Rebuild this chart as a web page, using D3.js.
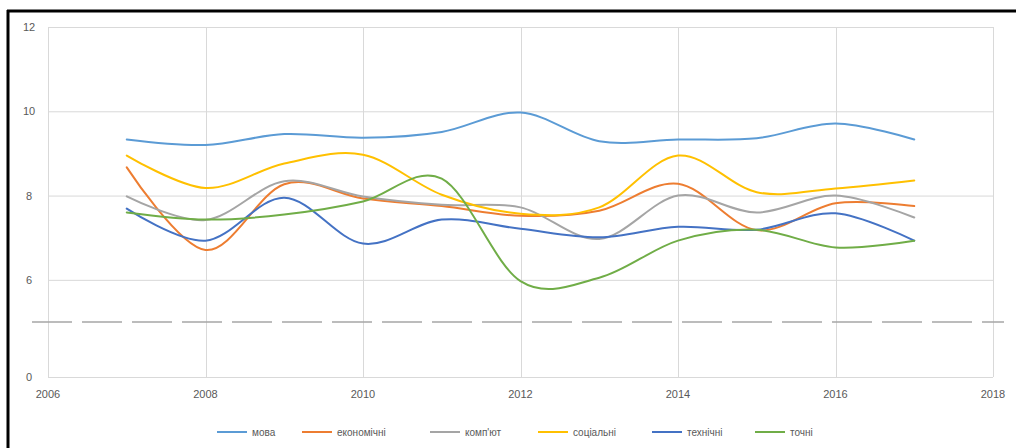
<!DOCTYPE html>
<html><head><meta charset="utf-8">
<script src="https://cdn.jsdelivr.net/npm/d3@7"></script>
<style>body{margin:0;background:#fff;}svg{display:block;font-family:"Liberation Sans",Arial,sans-serif;}</style>
</head><body>
<svg id="c" width="1016" height="448"></svg>
<script>
const years = [2007,2008,2009,2010,2011,2012,2013,2014,2015,2016,2017];
const seriesNames = ["мова","економічні","комп'ют","соціальні","технічні","точні"];
const seriesColors = ["#5B9BD5","#ED7D31","#A5A5A5","#FFC000","#4472C4","#70AD47"];
const mova        = [9.33,9.20,9.46,9.37,9.51,9.97,9.29,9.33,9.36,9.71,9.33];
const ekonomichni = [8.67,6.71,8.27,7.93,7.75,7.52,7.64,8.28,7.18,7.82,7.75];
const kompiut     = [7.98,7.42,8.34,7.98,7.78,7.72,6.97,8.00,7.60,8.00,7.48];
const sotsialni   = [8.95,8.18,8.76,8.97,8.02,7.57,7.72,8.95,8.08,8.17,8.36];
const tekhnichni  = [7.69,6.93,7.95,6.86,7.43,7.21,7.01,7.26,7.19,7.58,6.93];
const tochni      = [7.60,7.43,7.55,7.86,8.40,5.97,6.05,6.93,7.19,6.77,6.93];
const xTicks = [2006,2008,2010,2012,2014,2016,2018];
const yTicks = [0,6,8,10,12];
const axisBreak = 5;

const allSeries = [mova,ekonomichni,kompiut,sotsialni,tekhnichni,tochni];
const svg = d3.select("#c");

// frame (left/top black border)
svg.append("line").attr("x1",8).attr("x2",8).attr("y1",10).attr("y2",448).attr("stroke","#000").attr("stroke-width",3);
svg.append("line").attr("x1",7).attr("x2",1016).attr("y1",11).attr("y2",11).attr("stroke","#000").attr("stroke-width",3);

const x = d3.scaleLinear().domain([2006,2018]).range([48,993]);
const y = d3.scaleLinear().domain([0,axisBreak,12]).range([377,322,27]);

// gridlines
const g = svg.append("g");
g.selectAll(".hg").data(yTicks).join("line")
  .attr("x1",x(2006)).attr("x2",x(2018)).attr("y1",d=>y(d)+0.5).attr("y2",d=>y(d)+0.5)
  .attr("stroke","#d9d9d9").attr("stroke-width",1);
g.selectAll(".vg").data(xTicks).join("line")
  .attr("x1",d=>Math.round(x(d))+0.5).attr("x2",d=>Math.round(x(d))+0.5).attr("y1",y(12)).attr("y2",y(0))
  .attr("stroke","#d9d9d9").attr("stroke-width",1);

// axis labels
svg.append("g").selectAll("text").data(yTicks).join("text")
  .attr("x",29).attr("y",d=>y(d)+4).attr("text-anchor","middle")
  .attr("font-size",11).attr("fill","#595959").text(d=>d);
svg.append("g").selectAll("text").data(xTicks).join("text")
  .attr("x",d=>x(d)).attr("y",398).attr("text-anchor","middle")
  .attr("font-size",11).attr("fill","#595959").text(d=>d);

// axis break dashed line
svg.append("line").attr("x1",32).attr("x2",1004).attr("y1",y(axisBreak)).attr("y2",y(axisBreak))
  .attr("stroke","#a6a6a6").attr("stroke-width",1.5).attr("stroke-dasharray","40,10");

// series lines
const line = d3.line().x((d,i)=>x(years[i])).y(d=>y(d)).curve(d3.curveCardinal.tension(0));
svg.append("g").selectAll("path").data(allSeries).join("path")
  .attr("d",d=>line(d)).attr("fill","none")
  .attr("stroke",(d,i)=>seriesColors[i]).attr("stroke-width",2).attr("stroke-linecap","round");

// legend
const legX = [217,302,430,538,652,755];
const leg = svg.append("g").selectAll("g").data(seriesNames).join("g")
  .attr("transform",(d,i)=>`translate(${legX[i]},432)`);
leg.append("line").attr("x1",0).attr("x2",30).attr("y1",0).attr("y2",0)
  .attr("stroke",(d,i)=>seriesColors[i]).attr("stroke-width",2);
leg.append("text").attr("x",35).attr("y",3.5).attr("font-size",10).attr("fill","#595959").text(d=>d);
</script>
</body></html>
